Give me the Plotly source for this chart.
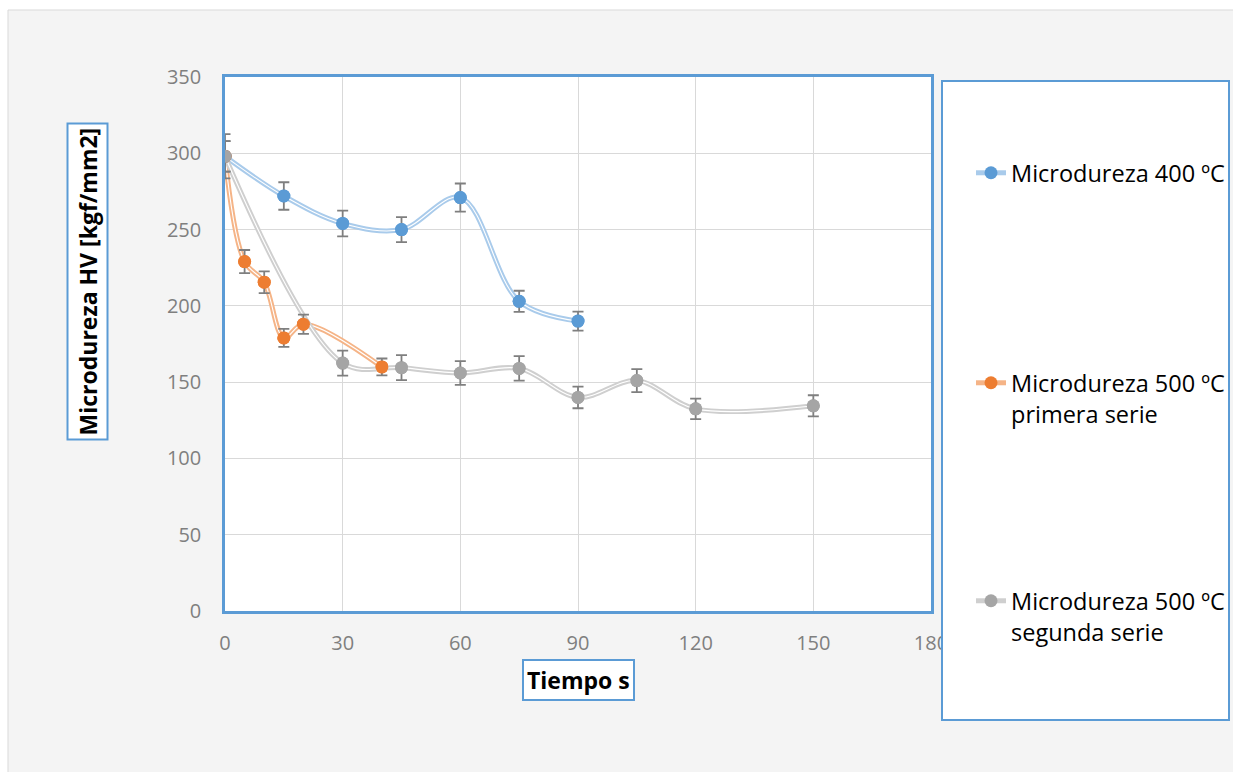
import plotly.graph_objects as go

# ---------------- data ----------------
t_400 = [0, 15, 30, 45, 60, 75, 90]
hv_400 = [298, 272, 254, 250, 271, 203, 190]
err_400 = [14.5, 9, 8.4, 8.2, 9.2, 6.9, 6.2]

t_500a = [0, 5, 10, 15, 20, 40]
hv_500a = [298, 229, 215.5, 179, 188, 160]
err_500a = [10, 7.6, 7.1, 5.9, 6.3, 5.5]

t_500b = [0, 30, 45, 60, 75, 90, 105, 120, 150]
hv_500b = [298, 162.5, 159.5, 156, 159, 140, 151, 132.5, 134.5]
err_500b = [10, 8.2, 8.2, 7.8, 8.0, 7.1, 7.5, 6.7, 6.9]

names = ["Microdureza 400 ºC",
         "Microdureza 500 ºC<br>primera serie",
         "Microdureza 500 ºC<br>segunda serie"]
x_ticks = [0, 30, 60, 90, 120, 150, 180]
y_ticks = [0, 50, 100, 150, 200, 250, 300, 350]

x_title = "Tiempo s"
y_title = "Microdureza HV [kgf/mm2]"

# ---------------- styles ----------------
marker_cols = ["#5b9bd5", "#ed7d31", "#a5a5a5"]
line_cols = ["#a9cbeb", "#f5b487", "#cfcfcf"]
legend_ids = ["legend", "legend2", "legend3"]
FONT = "Open Sans"

series = [(t_400, hv_400, err_400), (t_500a, hv_500a, err_500a), (t_500b, hv_500b, err_500b)]

fig = go.Figure()
for i, (xs, ys, es) in enumerate(series):
    # wide light line (also shown in legend, with marker)
    fig.add_trace(go.Scatter(
        x=xs, y=ys, mode="lines+markers", name=names[i],
        line=dict(color=line_cols[i], width=5, shape="spline", smoothing=1.0),
        marker=dict(color=marker_cols[i], size=13),
        legend=legend_ids[i], showlegend=True, hoverinfo="skip"))
    # thin white core -> double line look
    fig.add_trace(go.Scatter(
        x=xs, y=ys, mode="lines",
        line=dict(color="white", width=1.1, shape="spline", smoothing=1.0),
        showlegend=False, hoverinfo="skip"))
for i, (xs, ys, es) in enumerate(series):
    fig.add_trace(go.Scatter(
        x=xs, y=ys, mode="markers",
        marker=dict(color=marker_cols[i], size=13),
        error_y=dict(type="data", array=es, visible=True,
                     color="#7f7f7f", thickness=1.8, width=5.5),
        showlegend=False))

W, H = 1233, 772
# plot area in page pixels
L, R, T, B = 225, 931, 77, 611
def px(x):
    return (x - L) / (R - L)
def py(y):
    return (B - y) / (B - T)

shapes = [
    # outer chart frame
    dict(type="rect", xref="paper", yref="paper", x0=px(8), x1=px(1245), y0=py(785), y1=py(10),
         fillcolor="#f4f4f4", line=dict(color="#d9d9d9", width=1), layer="below"),
    # plot area background
    dict(type="rect", xref="paper", yref="paper", x0=0, x1=1, y0=0, y1=1,
         fillcolor="white", line=dict(width=0), layer="below"),
    # legend box
    dict(type="rect", xref="paper", yref="paper", x0=px(942), x1=px(1229), y0=py(720), y1=py(81),
         fillcolor="white", line=dict(color="#5b9bd5", width=2), layer="above"),
]

annotations = [
    dict(text=f"<b>{y_title}</b>", xref="paper", yref="paper", x=px(87), y=py(281.5),
         textangle=-90, showarrow=False, font=dict(family=FONT, size=23, color="black"),
         bgcolor="white", bordercolor="#5b9bd5", borderwidth=2, borderpad=3,
         xanchor="center", yanchor="middle"),
    dict(text=f"<b>{x_title}</b>", xref="paper", yref="paper", x=px(578.5), y=py(679.5),
         showarrow=False, font=dict(family=FONT, size=23, color="black"),
         bgcolor="white", bordercolor="#5b9bd5", borderwidth=2, borderpad=3,
         xanchor="center", yanchor="middle"),
]

leg_common = dict(bgcolor="rgba(0,0,0,0)", borderwidth=0, xanchor="left", yanchor="top",
                  valign="top", font=dict(family=FONT, size=23.5, color="black"))

fig.update_layout(
    width=W, height=H,
    margin=dict(l=L, r=W - R, t=T, b=H - B, pad=0, autoexpand=False),
    paper_bgcolor="white", plot_bgcolor="white",
    font=dict(family=FONT),
    shapes=shapes, annotations=annotations,
    legend=dict(x=px(971), y=py(151), **leg_common),
    legend2=dict(x=px(971), y=py(361), **leg_common),
    legend3=dict(x=px(971), y=py(579), **leg_common),
    xaxis=dict(range=[0, 180], tickvals=x_ticks, ticktext=[str(v) for v in x_ticks],
               showgrid=True, gridcolor="#d9d9d9", gridwidth=1.4, zeroline=False,
               showline=True, mirror=True, linecolor="#5b9bd5", linewidth=2.5,
               ticks="", ticklabelstandoff=12,
               tickfont=dict(family=FONT, size=20, color="#7f7f7f")),
    yaxis=dict(range=[0, 350], tickvals=y_ticks, ticktext=[str(v) for v in y_ticks],
               showgrid=True, gridcolor="#d9d9d9", gridwidth=1.4, zeroline=False,
               showline=True, mirror=True, linecolor="#5b9bd5", linewidth=2.5,
               ticks="", ticklabelstandoff=17,
               tickfont=dict(family=FONT, size=20, color="#7f7f7f")),
)

fig.write_html("out.html", config={"displayModeBar": False},
               post_script="document.body.style.margin='0';document.body.style.overflow='hidden';")
